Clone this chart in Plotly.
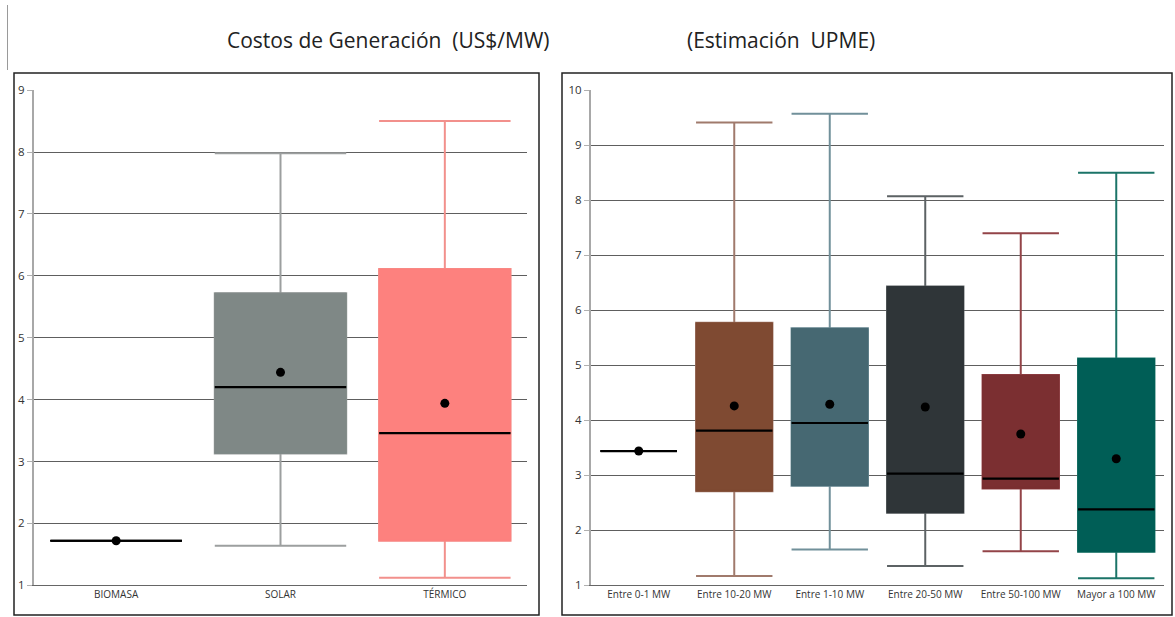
import plotly.graph_objects as go

# ---------------- data ----------------
left_cats = ["BIOMASA", "SOLAR", "TÉRMICO"]
left_low = [1.72, 1.64, 1.12]
left_q1 = [1.72, 3.13, 1.72]
left_med = [1.72, 4.20, 3.46]
left_q3 = [1.72, 5.72, 6.11]
left_high = [1.72, 7.98, 8.50]
left_mean = [1.72, 4.44, 3.94]

right_cats = ["Entre 0-1 MW", "Entre 10-20 MW", "Entre 1-10 MW",
              "Entre 20-50 MW", "Entre 50-100 MW", "Mayor a 100 MW"]
right_low = [3.44, 1.17, 1.65, 1.35, 1.62, 1.13]
right_q1 = [3.44, 2.71, 2.81, 2.32, 2.76, 1.61]
right_med = [3.44, 3.81, 3.95, 3.03, 2.94, 2.38]
right_q3 = [3.44, 5.77, 5.67, 6.43, 4.82, 5.12]
right_high = [3.44, 9.41, 9.57, 8.07, 7.40, 8.50]
right_mean = [3.44, 4.26, 4.29, 4.24, 3.75, 3.30]

left_ticks = [1, 2, 3, 4, 5, 6, 7, 8, 9]
right_ticks = [1, 2, 3, 4, 5, 6, 7, 8, 9, 10]

# ---------------- styles ----------------
left_fill = ["#000000", "#7f8886", "#fd817e"]
left_whisk = ["#000000", "#9c9f9f", "#f2908c"]
right_fill = ["#000000", "#7f4a32", "#466872", "#2f3538", "#7b2f31", "#005e56"]
right_whisk = ["#000000", "#a07a6c", "#71909a", "#5c6264", "#934448", "#1b7468"]

W, H = 1175, 617
FONT = "Open Sans"


def px_x(p):
    return p / W


def px_y(p):
    return 1 - p / H


fig = go.Figure()


def add_panel(cats, low, q1, med, q3, high, mean, fills, whisks, xa, ya):
    for i, c in enumerate(cats):
        # whiskers + box
        fig.add_trace(go.Box(
            x=[c], q1=[q1[i]], median=[med[i]], q3=[q3[i]],
            lowerfence=[low[i]], upperfence=[high[i]],
            fillcolor=fills[i], line=dict(color=whisks[i], width=2),
            whiskerwidth=1, boxpoints=False, showlegend=False,
            xaxis=xa, yaxis=ya, hoverinfo="skip"))
        # box body without outline
        fig.add_trace(go.Box(
            x=[c], q1=[q1[i]], median=[q1[i]], q3=[q3[i]],
            lowerfence=[q1[i]], upperfence=[q3[i]],
            fillcolor=fills[i], line=dict(color=fills[i], width=1),
            whiskerwidth=0, boxpoints=False, showlegend=False,
            xaxis=xa, yaxis=ya, hoverinfo="skip"))
        # median line
        fig.add_trace(go.Box(
            x=[c], q1=[med[i]], median=[med[i]], q3=[med[i]],
            lowerfence=[med[i]], upperfence=[med[i]],
            fillcolor="rgba(0,0,0,0)", line=dict(color="#000000", width=2.2),
            whiskerwidth=0, boxpoints=False, showlegend=False,
            xaxis=xa, yaxis=ya, hoverinfo="skip"))
    # means
    fig.add_trace(go.Scatter(
        x=cats, y=mean, mode="markers",
        marker=dict(color="#000000", size=9),
        showlegend=False, xaxis=xa, yaxis=ya, hoverinfo="skip"))


add_panel(left_cats, left_low, left_q1, left_med, left_q3, left_high, left_mean,
          left_fill, left_whisk, "x", "y")
add_panel(right_cats, right_low, right_q1, right_med, right_q3, right_high, right_mean,
          right_fill, right_whisk, "x2", "y2")

ydom = [px_y(585.3), px_y(90.1)]

xcommon = dict(type="category", showgrid=False, showline=True,
               linecolor="#666666", linewidth=1, ticks="", zeroline=False,
               automargin=False,
               tickfont=dict(family=FONT, size=10, color="#333333"),
               fixedrange=True)
ycommon = dict(showgrid=True, gridcolor="#5e5e5e", gridwidth=1,
               showline=True, linecolor="#a8a8a8", linewidth=2,
               ticks="outside", ticklen=5, tickcolor="#b0b0b0", tickwidth=1,
               zeroline=False, automargin=False,
               tickfont=dict(family=FONT, size=11.5, color="#333333"),
               fixedrange=True)

fig.update_layout(
    width=W, height=H,
    margin=dict(l=0, r=0, t=0, b=0, autoexpand=False),
    paper_bgcolor="white", plot_bgcolor="white",
    boxmode="overlay", boxgap=0.2, boxgroupgap=0,
    xaxis=dict(domain=[px_x(34), px_x(527)], categoryorder="array",
               categoryarray=left_cats, range=[-0.5, 2.5], anchor="y", **xcommon),
    yaxis=dict(domain=ydom, range=[1, 9], tickvals=left_ticks, anchor="x", **ycommon),
    xaxis2=dict(domain=[px_x(591), px_x(1164)], categoryorder="array",
                categoryarray=right_cats, range=[-0.5, 5.5], anchor="y2", **xcommon),
    yaxis2=dict(domain=ydom, range=[1, 10], tickvals=right_ticks, anchor="x2", **ycommon),
    annotations=[
        dict(text="Costos de Generación  (US$/MW)", x=px_x(388), y=px_y(40),
             xref="paper", yref="paper", showarrow=False, xanchor="center",
             yanchor="middle", font=dict(family=FONT, size=21, color="#222222")),
        dict(text="(Estimación  UPME)", x=px_x(781), y=px_y(40),
             xref="paper", yref="paper", showarrow=False, xanchor="center",
             yanchor="middle", font=dict(family=FONT, size=21, color="#222222")),
    ],
    shapes=[
        dict(type="rect", xref="paper", yref="paper",
             x0=px_x(14), x1=px_x(539), y0=px_y(615), y1=px_y(73),
             line=dict(color="#222222", width=1.5)),
        dict(type="rect", xref="paper", yref="paper",
             x0=px_x(562), x1=px_x(1172), y0=px_y(615), y1=px_y(73),
             line=dict(color="#222222", width=1.5)),
        dict(type="line", xref="paper", yref="paper",
             x0=px_x(7.5), x1=px_x(7.5), y0=px_y(70), y1=px_y(5),
             line=dict(color="#9a9a9a", width=1)),
    ],
)

fig.write_html("out.html", config={"displayModeBar": False},
               post_script="document.body.style.margin='0';document.body.style.overflow='hidden';")
